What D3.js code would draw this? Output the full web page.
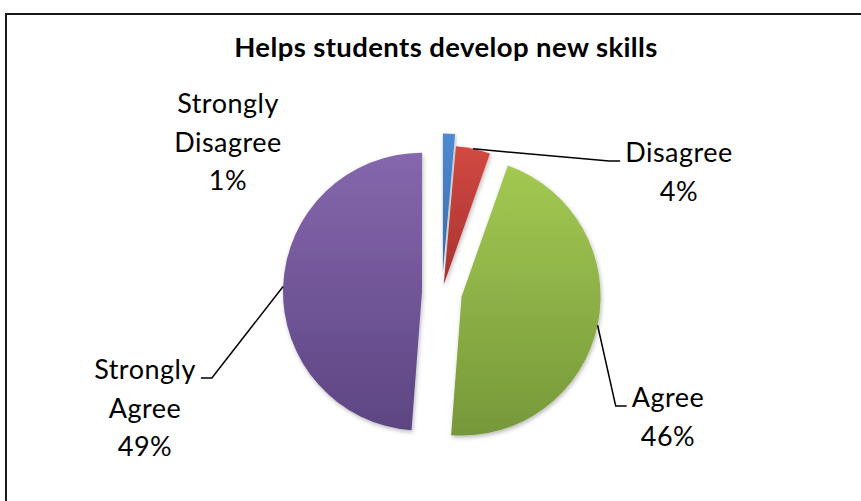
<!DOCTYPE html>
<html>
<head>
<meta charset="utf-8">
<script src="https://cdn.jsdelivr.net/npm/d3@7"></script>
<style>
  html, body { margin: 0; padding: 0; background: #fff; }
  svg { display: block; }
  text { font-family: Lato, "Open Sans", "Liberation Sans", sans-serif; fill: #000; }
</style>
</head>
<body>
<svg id="chart" width="861" height="501"></svg>
<script>
// Survey answers, share of respondents (%)
const categories = ["Strongly Disagree", "Disagree", "Agree", "Strongly Agree"];
const shares = [1.4, 4.0, 45.8, 48.8];
const labelNames = [["Strongly", "Disagree"], ["Disagree"], ["Agree"], ["Strongly", "Agree"]];
const title = "Helps students develop new skills";

// Slice fills: [top, bottom] of each gradient
const fills = [
  ["#4f8ad3", "#3a6bab"],
  ["#d24943", "#a6322f"],
  ["#a3c952", "#76983a"],
  ["#8567ad", "#5d4582"]
];

const W = 861, H = 501;
const cx = 442, cy = 292.5, R = 139;
const explode = [20, 8, 20, 20];
const fontSize = 27, lineGap = 38.5;

// label block: centre x, first baseline y, leader side (+1 label right of pie, -1 left, 0 none)
const labelLayout = [
  { x: 228, y: 113, side: 0 },
  { x: 679, y: 162, side: 1 },
  { x: 668, y: 407, side: 1 },
  { x: 145, y: 379, side: -1 }
];

const svg = d3.select("#chart");
const defs = svg.append("defs");

fills.forEach((f, i) => {
  const g = defs.append("linearGradient")
    .attr("id", "grad" + i)
    .attr("x1", 0).attr("y1", 0).attr("x2", 0).attr("y2", 1);
  g.append("stop").attr("offset", "0%").attr("stop-color", f[0]);
  g.append("stop").attr("offset", "100%").attr("stop-color", f[1]);
});

const shadow = defs.append("filter").attr("id", "shadow")
  .attr("x", "-20%").attr("y", "-20%").attr("width", "140%").attr("height", "140%");
shadow.append("feDropShadow")
  .attr("dx", 1).attr("dy", 2).attr("stdDeviation", 2)
  .attr("flood-color", "#000").attr("flood-opacity", 0.28);

// chart frame
svg.append("rect")
  .attr("x", 6).attr("y", 14)
  .attr("width", W + 20).attr("height", H + 20)
  .attr("fill", "none").attr("stroke", "#1a1a1a").attr("stroke-width", 2);

svg.append("text")
  .attr("x", 446).attr("y", 57)
  .attr("text-anchor", "middle")
  .attr("font-weight", "bold")
  .attr("font-size", 27.5)
  .attr("letter-spacing", 0.4)
  .text(title);

const pie = d3.pie().sort(null).value(d => d);
const arcs = pie(shares);
const arc = d3.arc().innerRadius(0).outerRadius(R);

const mid = a => (a.startAngle + a.endAngle) / 2;
const offset = (a, i) => [Math.sin(mid(a)) * explode[i], -Math.cos(mid(a)) * explode[i]];

const pieG = svg.append("g").attr("transform", `translate(${cx},${cy})`);

pieG.selectAll("path.slice")
  .data(arcs)
  .join("path")
  .attr("class", "slice")
  .attr("transform", (a, i) => `translate(${offset(a, i)})`)
  .attr("d", arc)
  .attr("fill", (a, i) => `url(#grad${i})`)
  .attr("filter", "url(#shadow)");

const pct = d3.format(".0f");

// labels
const labelG = svg.append("g");
arcs.forEach((a, i) => {
  const L = labelLayout[i];
  const lines = labelNames[i].concat([pct(shares[i]) + "%"]);
  const t = labelG.append("text")
    .attr("text-anchor", "middle")
    .attr("font-size", fontSize)
    .attr("letter-spacing", 0.5);
  lines.forEach((s, k) => {
    t.append("tspan").attr("x", L.x).attr("y", L.y + k * lineGap).text(s);
  });

  if (L.side !== 0) {
    // leader from slice edge at its mid angle to the first label line
    const first = t.select("tspan").node();
    const w = first.getComputedTextLength();
    const edgeX = L.x - L.side * w / 2;
    const endX = edgeX - L.side * 5;
    const elbowX = endX - L.side * 11;
    const ly = L.y - 1;
    const o = offset(a, i);
    const m = mid(a);
    const sx = cx + o[0] + Math.sin(m) * R;
    const sy = cy + o[1] - Math.cos(m) * R;
    labelG.append("path")
      .attr("d", d3.line()([[sx, sy], [elbowX, ly], [endX, ly]]))
      .attr("fill", "none")
      .attr("stroke", "#000")
      .attr("stroke-width", 1.5);
  }
});
</script>
</body>
</html>
